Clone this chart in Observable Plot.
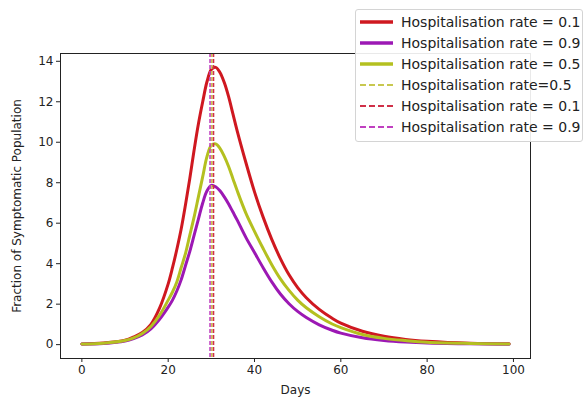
<!DOCTYPE html>
<html><head><meta charset="utf-8">
<script src="https://cdn.jsdelivr.net/npm/d3@7"></script>
<script src="https://cdn.jsdelivr.net/npm/@observablehq/plot@0.6"></script>
<style>
body{margin:0;background:#fff;font-family:"DejaVu Sans",sans-serif;}
#wrap{position:relative;width:585px;height:401px;overflow:hidden;}
#legend{position:absolute;left:355px;top:9px;width:228px;height:133px;background:rgba(255,255,255,0.9);border:1px solid #d4d4d4;border-radius:3px;box-sizing:border-box;}
.row{position:absolute;left:0;height:20px;display:flex;align-items:center;font-size:14px;color:#222;white-space:nowrap;}
.row svg{margin-left:4px;margin-right:8px;}
</style></head>
<body>
<div id="wrap"></div>
<script>
// ---- data ----
const days = [0,5,10,12,14,16,18,20,21,22,23,24,25,26,27,28,29,30,31,32,33,34,35,36,38,40,42,44,46,48,50,52,55,58,60,65,70,75,80,90,99];
const rate01 = [0.03,0.08,0.22,0.38,0.6,1.0,1.8,3.0,3.8,4.7,5.7,6.9,8.2,9.6,10.9,12.0,13.0,13.6,13.7,13.45,12.95,12.25,11.4,10.55,9.0,7.55,6.3,5.2,4.25,3.45,2.82,2.32,1.74,1.3,1.06,0.66,0.41,0.26,0.17,0.07,0.04];
const rate09 = [0.03,0.06,0.18,0.3,0.48,0.78,1.25,1.85,2.2,2.65,3.2,3.9,4.6,5.4,6.2,7.0,7.6,7.87,7.8,7.6,7.3,6.95,6.55,6.15,5.3,4.55,3.8,3.1,2.5,2.02,1.64,1.34,0.98,0.71,0.57,0.34,0.21,0.13,0.08,0.04,0.02];
const rate05 = [0.03,0.07,0.2,0.33,0.55,0.9,1.45,2.2,2.6,3.1,3.8,4.5,5.4,6.3,7.3,8.3,9.3,9.85,9.92,9.7,9.3,8.8,8.2,7.6,6.5,5.6,4.75,3.95,3.25,2.68,2.2,1.82,1.38,1.02,0.84,0.5,0.31,0.2,0.12,0.06,0.03];
const peakRates = ["0.5", "0.1", "0.9"];
const peakDays = [30.1, 30.5, 29.7];
const xTicks = [0, 20, 40, 60, 80, 100];
const yTicks = [0, 2, 4, 6, 8, 10, 12, 14];
const legendLabels = ["Hospitalisation rate = 0.1","Hospitalisation rate = 0.9","Hospitalisation rate = 0.5","Hospitalisation rate=0.5","Hospitalisation rate = 0.1","Hospitalisation rate = 0.9"];

// ---- styles ----
const solidColor = {"0.1": "#cf1820", "0.9": "#9c18b4", "0.5": "#b4c020"};
const dashColor = {"0.1": "#d03048", "0.9": "#c040c0", "0.5": "#c8c850"};

const series = [
  {rate: "0.1", values: rate01},
  {rate: "0.9", values: rate09},
  {rate: "0.5", values: rate05}
];
const rows = series.flatMap(s => days.map((d, i) => ({day: d, value: s.values[i], rate: s.rate})));
const vlines = peakDays.map((d, i) => ({day: d, rate: peakRates[i]}));

const chart = Plot.plot({
  width: 585, height: 401,
  marginLeft: 60, marginRight: 55, marginTop: 53, marginBottom: 43,
  style: {fontFamily: "DejaVu Sans", fontSize: "12px", color: "#222", background: "#fff"},
  x: {domain: [-4.95, 103.95]},
  y: {domain: [-0.685, 14.385]},
  marks: [
    ...series.map(s => Plot.line(rows.filter(r => r.rate === s.rate), {x: "day", y: "value", stroke: solidColor[s.rate], strokeWidth: 3, curve: "catmull-rom"})),
    ...vlines.map(v => Plot.ruleX([v], {x: "day", stroke: dashColor[v.rate], strokeWidth: 1.6, strokeDasharray: "4,2"})),
    Plot.frame({stroke: "#222", strokeWidth: 1}),
    Plot.axisX({ticks: xTicks, tickSize: 4, tickPadding: 3, label: null, fontSize: 12}),
    Plot.axisY({ticks: yTicks, tickSize: 4, tickPadding: 3, label: null, fontSize: 12}),
    Plot.text(["Days"], {frameAnchor: "bottom", dy: 35, fontSize: 12, fill: "#222"}),
    Plot.text(["Fraction of Symptomatic Population"], {frameAnchor: "left", dx: -43, rotate: -90, textAnchor: "middle", fontSize: 12, fill: "#222"})
  ]
});
const wrap = document.getElementById("wrap");
wrap.appendChild(chart);

// ---- legend ----
const legend = document.createElement("div");
legend.id = "legend";
const handles = [
  {c: solidColor["0.1"], w: 3.5, dash: null},
  {c: solidColor["0.9"], w: 3.5, dash: null},
  {c: solidColor["0.5"], w: 3.5, dash: null},
  {c: dashColor["0.5"], w: 1.8, dash: "6,3"},
  {c: dashColor["0.1"], w: 1.8, dash: "6,3"},
  {c: dashColor["0.9"], w: 1.8, dash: "6,3"}
];
legendLabels.forEach((lab, i) => {
  const row = document.createElement("div");
  row.className = "row";
  row.style.top = (1.5 + 21.1 * i) + "px";
  const h = handles[i];
  row.innerHTML = `<svg width="33" height="8"><line x1="0" x2="33" y1="4" y2="4" stroke="${h.c}" stroke-width="${h.w}" ${h.dash ? `stroke-dasharray="${h.dash}"` : ""}/></svg><span>${lab}</span>`;
  legend.appendChild(row);
});
wrap.appendChild(legend);
</script>
</body></html>
